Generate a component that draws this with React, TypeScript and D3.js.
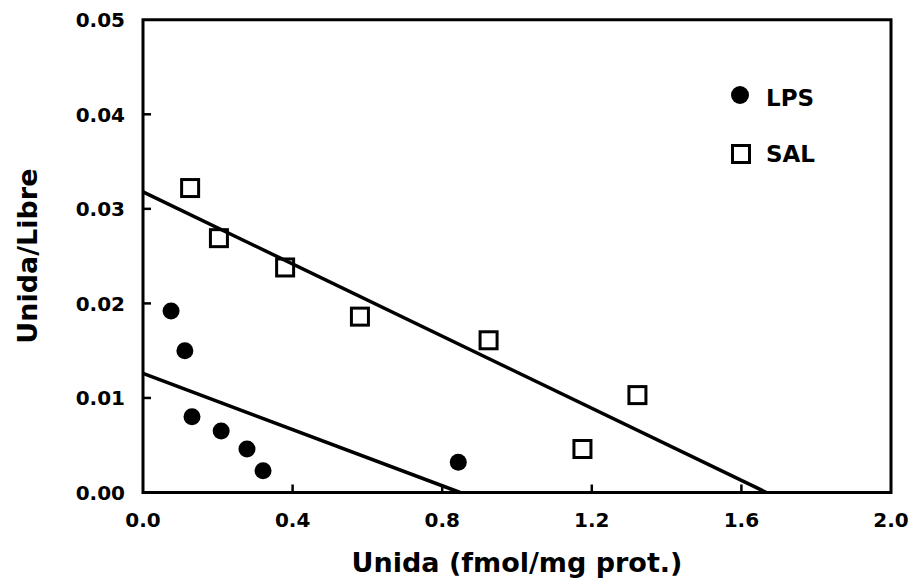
import React from "react";
import * as d3 from "d3";

const lpsX = [0.075, 0.112, 0.131, 0.209, 0.278, 0.321, 0.843];
const lpsY = [0.0192, 0.0150, 0.0080, 0.0065, 0.0046, 0.0023, 0.0032];
const salX = [0.126, 0.203, 0.380, 0.580, 0.924, 1.175, 1.322];
const salY = [0.0322, 0.0269, 0.0238, 0.0186, 0.0161, 0.0046, 0.0103];
const lpsLine = [[0, 0.0126], [0.848, 0]];
const salLine = [[0, 0.0318], [1.667, 0]];
const xTicks = [0, 0.4, 0.8, 1.2, 1.6, 2.0];
const yTicks = [0, 0.01, 0.02, 0.03, 0.04, 0.05];
const xTickLabels = ["0.0", "0.4", "0.8", "1.2", "1.6", "2.0"];
const yTickLabels = ["0.00", "0.01", "0.02", "0.03", "0.04", "0.05"];
const legendLabels = ["LPS", "SAL"];

const W = 915, H = 582;
const L = 143, R = 891, T = 19.75, B = 492.5;
const FONT = "'DejaVu Sans', sans-serif";

export default function App() {
  const x = d3.scaleLinear().domain([0, 2]).range([L, R]);
  const y = d3.scaleLinear().domain([0, 0.05]).range([B, T]);
  const line = d3.line<number[]>().x(d => x(d[0])).y(d => y(d[1]));
  const sq = 17;
  return (
    <svg width={W} height={H} style={{ position: "absolute", left: 0, top: 0, background: "#fff" }}>
      <rect x={0} y={0} width={W} height={H} fill="#fff" />
      {/* frame */}
      <rect x={L} y={T} width={R - L} height={B - T} fill="none" stroke="#000" strokeWidth={3} />
      {/* ticks */}
      {xTicks.slice(1, -1).map((t, i) => (
        <line key={"xt" + i} x1={x(t)} x2={x(t)} y1={B} y2={B - 8} stroke="#000" strokeWidth={2.5} />
      ))}
      {yTicks.slice(1, -1).map((t, i) => (
        <line key={"yt" + i} x1={L} x2={L + 8} y1={y(t)} y2={y(t)} stroke="#000" strokeWidth={2.5} />
      ))}
      {/* tick labels */}
      {xTicks.map((t, i) => (
        <text key={"xl" + i} x={x(t)} y={527} textAnchor="middle" fontFamily={FONT} fontWeight="bold" fontSize={20}>
          {xTickLabels[i]}
        </text>
      ))}
      {yTicks.map((t, i) => (
        <text key={"yl" + i} x={125} y={y(t) + 7.5} textAnchor="end" fontFamily={FONT} fontWeight="bold" fontSize={20}>
          {yTickLabels[i]}
        </text>
      ))}
      {/* titles */}
      <text x={(L + R) / 2} y={572} textAnchor="middle" fontFamily={FONT} fontWeight="bold" fontSize={27}>
        Unida (fmol/mg prot.)
      </text>
      <text transform={`translate(37,${(T + B) / 2}) rotate(-90)`} textAnchor="middle" fontFamily={FONT} fontWeight="bold" fontSize={27}>
        Unida/Libre
      </text>
      {/* regression lines */}
      <path d={line(lpsLine) || ""} fill="none" stroke="#000" strokeWidth={3.5} />
      <path d={line(salLine) || ""} fill="none" stroke="#000" strokeWidth={3.5} />
      {/* LPS points */}
      {lpsX.map((v, i) => (
        <circle key={"c" + i} cx={x(v)} cy={y(lpsY[i])} r={8.5} fill="#000" />
      ))}
      {/* SAL points */}
      {salX.map((v, i) => (
        <rect key={"s" + i} x={x(v) - sq / 2} y={y(salY[i]) - sq / 2} width={sq} height={sq} fill="none" stroke="#000" strokeWidth={3} />
      ))}
      {/* legend */}
      <circle cx={740} cy={95} r={9} fill="#000" />
      <text x={766} y={106} fontFamily={FONT} fontWeight="bold" fontSize={23}>{legendLabels[0]}</text>
      <rect x={741 - sq / 2} y={154 - sq / 2} width={sq} height={sq} fill="none" stroke="#000" strokeWidth={3} />
      <text x={766} y={162} fontFamily={FONT} fontWeight="bold" fontSize={23}>{legendLabels[1]}</text>
    </svg>
  );
}
